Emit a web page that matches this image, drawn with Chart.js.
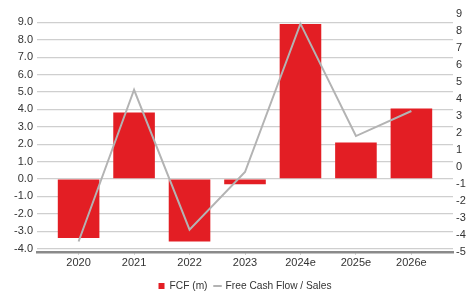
<!DOCTYPE html>
<html><head><meta charset="utf-8">
<script src="https://cdn.jsdelivr.net/npm/chart.js@4/dist/chart.umd.min.js"></script>
<style>html,body{margin:0;padding:0;background:#fff;overflow:hidden}</style>
</head><body>
<canvas id="c" width="467" height="291"></canvas>
<script>
const categories = ['2020','2021','2022','2023','2024e','2025e','2026e'];
const fcfValues = [-3.4, 3.82, -3.6, -0.3, 8.9, 2.1, 4.05];
const fcfSalesValues = [-4.4, 4.55, -3.7, -0.3, 8.45, 1.82, 3.3];
const leftTicks = [-4,-3,-2,-1,0,1,2,3,4,5,6,7,8,9];
const rightTicks = [-5,-4,-3,-2,-1,0,1,2,3,4,5,6,7,8,9];

const FONT = "'Liberation Sans', Arial, sans-serif";
Chart.defaults.font.family = FONT;
Chart.defaults.font.size = 11;
Chart.defaults.color = '#333';

new Chart(document.getElementById('c'), {
  type: 'bar',
  data: {
    datasets: [
      {
        type: 'bar',
        label: 'FCF (m)',
        data: fcfValues.map((v, i) => ({x: i, y: v})),
        backgroundColor: '#e31e24',
        borderWidth: 0,
        yAxisID: 'y',
        barPercentage: 0.75,
        categoryPercentage: 1,
        pointStyle: 'rect',
        order: 2
      },
      {
        type: 'line',
        label: 'Free Cash Flow / Sales',
        data: fcfSalesValues.map((v, i) => ({x: i, y: v})),
        borderColor: '#b3b3b3',
        backgroundColor: '#b3b3b3',
        borderWidth: 2,
        pointRadius: 0,
        tension: 0,
        yAxisID: 'y1',
        pointStyle: 'line',
        order: 1
      }
    ]
  },
  options: {
    responsive: false,
    devicePixelRatio: 1,
    animation: false,
    layout: {padding: {top: 14, left: 0, right: 0, bottom: 0}},
    plugins: {
      tooltip: {enabled: false},
      legend: {
        position: 'bottom',
        fullSize: false,
        maxHeight: 17.1,
        labels: {
          usePointStyle: true,
          boxWidth: 6,
          boxHeight: 6,
          padding: 7,
          color: '#333',
          font: {size: 10.2, family: FONT},
          sort: (a, b) => a.datasetIndex - b.datasetIndex
        }
      }
    },
    scales: {
      x: {
        type: 'linear',
        offset: false,
        min: -0.75,
        max: 6.75,
        afterBuildTicks: s => { s.ticks = categories.map((_, i) => ({value: i})); },
        afterFit: s => { s.height = 21.2; },
        ticks: {
          autoSkip: false, maxRotation: 0, padding: 2,
          callback: v => categories[v]
        },
        grid: {display: true, offset: false, drawOnChartArea: false, drawTicks: true, tickLength: 2, color: '#bbb', lineWidth: 1},
        border: {display: true, color: '#8a8a8a', width: 2.5}
      },
      y: {
        position: 'left',
        min: -4.24,
        max: 9.48,
        afterBuildTicks: s => { s.ticks = leftTicks.map(v => ({value: v})); },
        afterFit: s => { s.width = 37; },
        ticks: {padding: 4, callback: v => v.toFixed(1)},
        grid: {color: '#cfcfcf', lineWidth: 1.2, drawTicks: false},
        border: {display: false}
      },
      y1: {
        position: 'right',
        min: -5.06,
        max: 9.02,
        afterBuildTicks: s => { s.ticks = rightTicks.map(v => ({value: v})); },
        afterFit: s => { s.width = 14; },
        ticks: {padding: 3, callback: v => String(v)},
        grid: {display: false, drawTicks: false},
        border: {display: false}
      }
    }
  }
});
</script>
</body></html>
